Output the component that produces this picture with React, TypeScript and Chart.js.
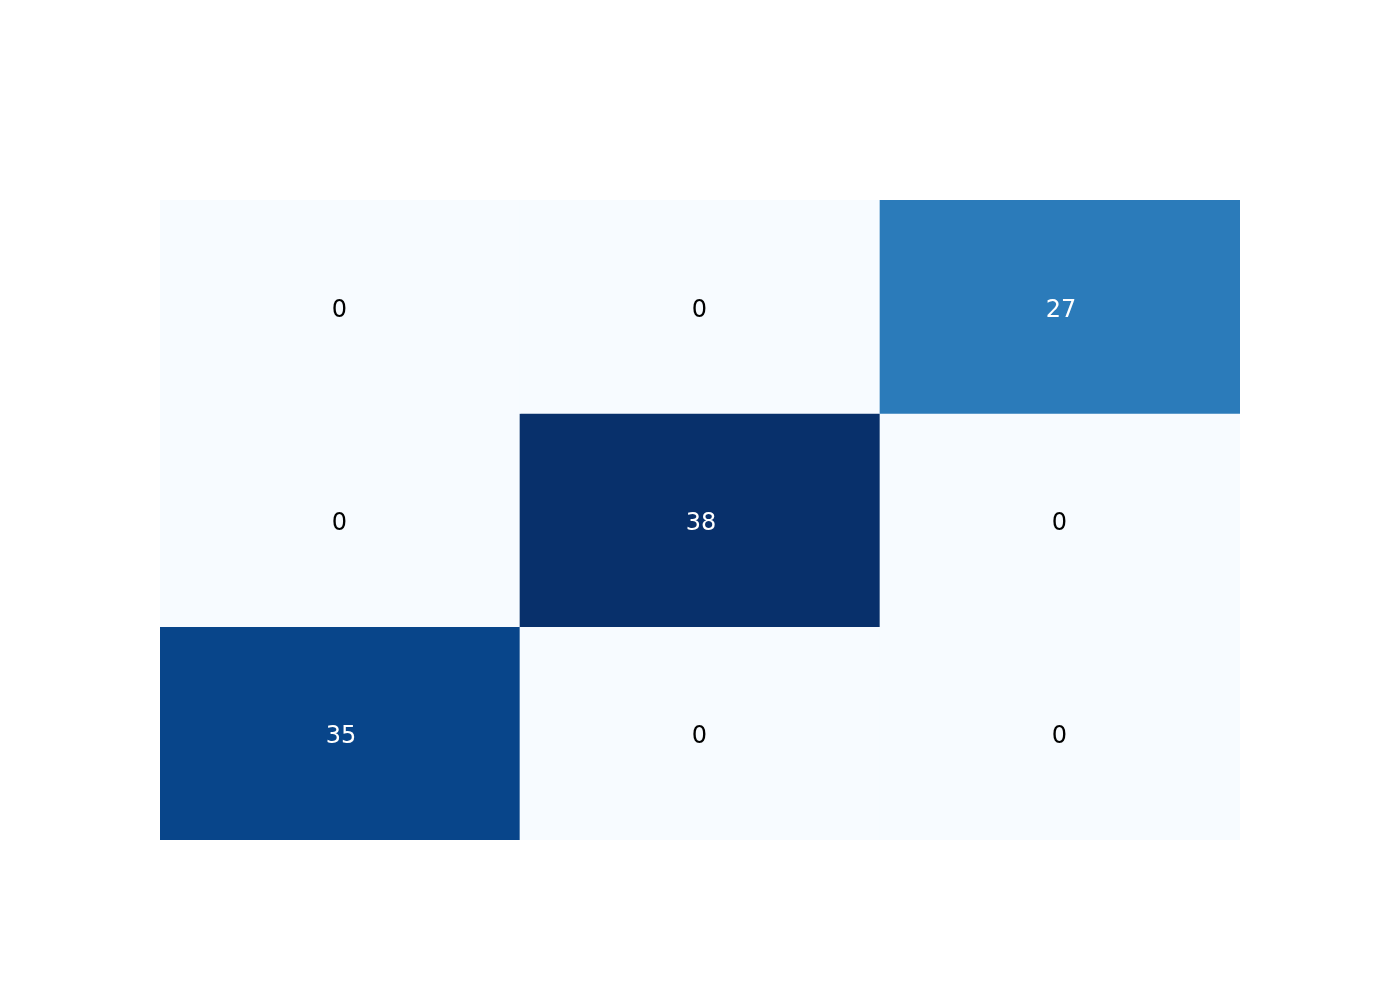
import React, { useEffect, useRef } from "react";
import { Chart, registerables } from "chart.js";

Chart.register(...registerables);

const columns = ["0", "1", "2"];
const rows = ["0", "1", "2"];
// values[row][col], row 0 at top
const row0 = [0, 0, 27];
const row1 = [0, 38, 0];
const row2 = [35, 0, 0];
const values = [row0, row1, row2];

const bluesStops = [
  "#f7fbff", "#deebf7", "#c6dbef", "#9ecae1", "#6baed6",
  "#4292c6", "#2171b5", "#08519c", "#08306b",
];

function hexToRgb(h: string) {
  const n = parseInt(h.slice(1), 16);
  return [(n >> 16) & 255, (n >> 8) & 255, n & 255];
}

function blues(t: number) {
  const x = Math.max(0, Math.min(1, t)) * (bluesStops.length - 1);
  const i = Math.min(Math.floor(x), bluesStops.length - 2);
  const f = x - i;
  const a = hexToRgb(bluesStops[i]);
  const b = hexToRgb(bluesStops[i + 1]);
  const c = a.map((v, k) => Math.round(v + (b[k] - v) * f));
  return `rgb(${c[0]},${c[1]},${c[2]})`;
}

export default function App() {
  const ref = useRef<HTMLCanvasElement | null>(null);

  useEffect(() => {
    if (!ref.current) return;
    const all = values.flat();
    const vmin = Math.min(...all);
    const vmax = Math.max(...all);
    const n = rows.length;

    const datasets = values.map((rowVals, r) => ({
      label: "row " + rows[r],
      data: rowVals.map(() => [n - r - 1, n - r]),
      backgroundColor: rowVals.map((v) => blues((v - vmin) / (vmax - vmin))),
      borderWidth: 0,
      barPercentage: 1,
      categoryPercentage: 1,
      grouped: false,
      rowValues: rowVals,
    }));

    const labelPlugin = {
      id: "cellLabels",
      afterDatasetsDraw(chart: any) {
        const ctx = chart.ctx;
        ctx.save();
        ctx.font = '24px "DejaVu Sans"';
        ctx.textAlign = "center";
        ctx.textBaseline = "alphabetic";
        chart.data.datasets.forEach((ds: any, di: number) => {
          const meta = chart.getDatasetMeta(di);
          meta.data.forEach((el: any, i: number) => {
            const v = ds.rowValues[i];
            const t = (v - vmin) / (vmax - vmin);
            ctx.fillStyle = t > 0.5 ? "#ffffff" : "#000000";
            const cy = (el.y + el.base) / 2;
            const dx = String(v).length > 1 ? 1 : -0.5;
            ctx.fillText(String(v), el.x + dx, cy + 10);
          });
        });
        ctx.restore();
      },
    };

    const chart = new Chart(ref.current, {
      type: "bar",
      data: { labels: columns, datasets: datasets as any },
      options: {
        animation: false,
        responsive: false,
        maintainAspectRatio: false,
        layout: { padding: { left: 160, right: 160, top: 200, bottom: 160 } },
        plugins: { legend: { display: false }, tooltip: { enabled: false } },
        scales: {
          x: { type: "category", display: false, offset: true, grid: { display: false } },
          y: { type: "linear", min: 0, max: 3, display: false, grid: { display: false } },
        },
      },
      plugins: [labelPlugin],
    });
    return () => chart.destroy();
  }, []);

  return (
    <div style={{ position: "fixed", left: 0, top: 0, width: 1400, height: 1000, background: "#ffffff" }}>
      <canvas ref={ref} width={1400} height={1000} style={{ display: "block" }} />
    </div>
  );
}
